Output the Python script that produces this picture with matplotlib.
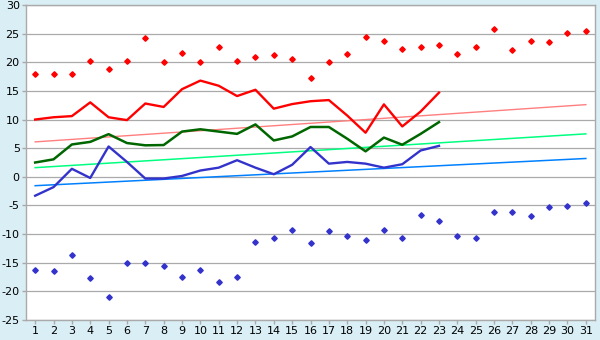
import matplotlib
matplotlib.use("Agg")
import matplotlib.pyplot as plt
import numpy as np

plt.rcParams["axes.unicode_minus"] = False

# days of the month
days = list(range(1, 32))
line_days = list(range(1, 24))

# daily extremes (points)
max_points = [17.9, 18.0, 17.9, 20.2, 18.8, 20.2, 24.2, 20.0, 21.6, 20.0,
              22.6, 20.3, 21.0, 21.2, 20.5, 17.2, 20.0, 21.4, 24.4, 23.7,
              22.3, 22.6, 23.0, 21.4, 22.6, 25.8, 22.1, 23.7, 23.5, 25.1, 25.4]
min_points = [-16.3, -16.5, -13.7, -17.7, -21.0, -15.1, -15.1, -15.5, -17.5, -16.2,
              -18.4, -17.5, -11.3, -10.7, -9.3, -11.6, -9.5, -10.4, -11.1, -9.3,
              -10.7, -6.7, -7.8, -10.4, -10.7, -6.2, -6.2, -6.9, -5.3, -5.1, -4.5]

# daily lines
high_line = [10.0, 10.4, 10.6, 13.0, 10.4, 9.9, 12.8, 12.2, 15.3, 16.8,
             15.9, 14.1, 15.2, 11.9, 12.7, 13.2, 13.4, 10.7, 7.7, 12.65,
             8.8, 11.4, 14.7]
mean_line = [2.5, 3.05, 5.65, 6.1, 7.45, 5.9, 5.5, 5.55, 7.9, 8.3,
             7.9, 7.5, 9.15, 6.35, 7.05, 8.7, 8.7, 6.65, 4.45, 6.85,
             5.6, 7.5, 9.55]
low_line = [-3.3, -1.8, 1.4, -0.2, 5.3, 2.6, -0.3, -0.3, 0.15, 1.1,
            1.6, 2.9, 1.6, 0.45, 2.1, 5.2, 2.3, 2.6, 2.3, 1.6,
            2.2, 4.6, 5.4]

# trend lines (start, end)
trend_days = [1, 31]
high_trend = [6.1, 12.6]
mean_trend = [1.6, 7.5]
low_trend = [-1.55, 3.2]

fig = plt.figure(figsize=(6, 3.4), dpi=100, facecolor="#d9eef5")
ax = fig.add_axes([0.0433, 0.0588, 0.9484, 0.9265])
ax.set_facecolor("white")

grid_col = "#aaaaaa"
for s in ax.spines.values():
    s.set_color(grid_col)
    s.set_linewidth(1.0)
ax.yaxis.grid(True, color=grid_col, linewidth=0.9)
ax.set_axisbelow(True)

ax.plot(trend_days, high_trend, color="#ff7f7f", lw=1.0)
ax.plot(trend_days, mean_trend, color="#00ff80", lw=1.1)
ax.plot(trend_days, low_trend, color="#0080ff", lw=1.1)

ax.plot(line_days, high_line, color="#ff0000", lw=1.7)
ax.plot(line_days, mean_line, color="#006600", lw=1.8)
ax.plot(line_days, low_line, color="#3333cc", lw=1.7)

ax.plot(days, max_points, linestyle="none", marker="D", ms=2.8, color="#ff0000")
ax.plot(days, min_points, linestyle="none", marker="D", ms=2.8, color="#3333cc")

ax.set_xlim(0.5, 31.5)
ax.set_ylim(-25, 30)
ax.set_xticks(days)
ax.set_yticks(range(-25, 31, 5))
ax.tick_params(axis="both", labelsize=8, color=grid_col, length=3, width=1, pad=1.5)

fig.savefig("out.png", dpi=100, facecolor=fig.get_facecolor())
